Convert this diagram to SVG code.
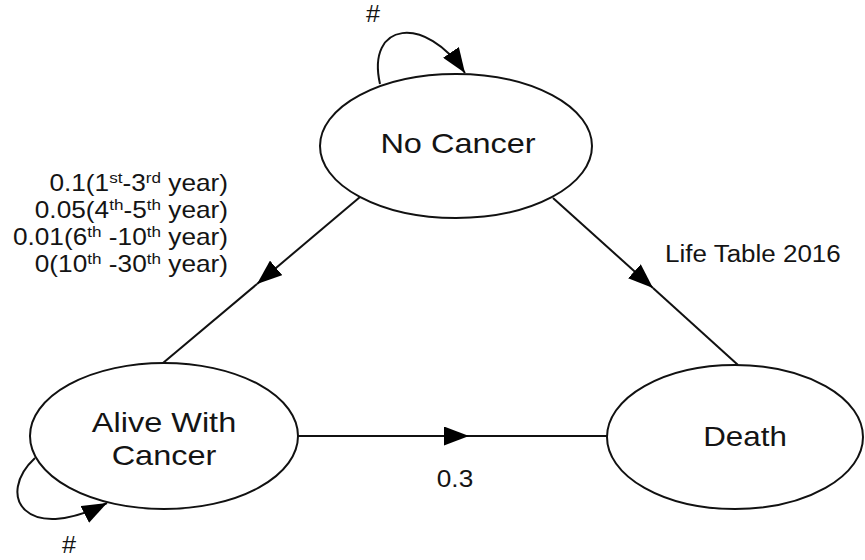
<svg xmlns="http://www.w3.org/2000/svg" width="865" height="560" viewBox="0 0 865 560">
<style>
.node{fill:#fff;stroke:#111;stroke-width:2}
.edge{fill:none;stroke:#111;stroke-width:2}
text{font-family:"Liberation Sans",Arial,sans-serif;fill:#141414}
.big{font-size:28.5px}
.lbl{font-size:23px}
.sup{font-size:15px}
</style>
<defs>
<marker id="arr" markerUnits="userSpaceOnUse" markerWidth="25" markerHeight="19" viewBox="0 0 25 19" refX="25" refY="9.5" orient="auto">
<path d="M0,0 L25,9.5 L0,19 z" fill="#000"/>
</marker>
</defs>
<rect width="865" height="560" fill="#fff"/>
<g id="connectors">
<path class="edge" d="M380,84 C366,22 425,14 465,73" marker-end="url(#arr)"/>
<path class="edge" d="M35,458 C-5,495 25,545 107,503" marker-end="url(#arr)"/>
<line class="edge" x1="360" y1="197" x2="257" y2="284" marker-end="url(#arr)"/>
<line class="edge" x1="257" y1="284" x2="163" y2="363"/>
<line class="edge" x1="553" y1="198" x2="653" y2="288" marker-end="url(#arr)"/>
<line class="edge" x1="653" y1="288" x2="738" y2="365"/>
<line class="edge" x1="298" y1="436" x2="469" y2="436" marker-end="url(#arr)"/>
<line class="edge" x1="469" y1="436" x2="607" y2="436"/>
</g>
<g id="no-cancer">
<ellipse class="node" cx="456" cy="146" rx="136" ry="72"/>
<text class="big" text-anchor="middle" transform="translate(458,153) scale(1.14,1)">No Cancer</text>
</g>
<g id="alive-with-cancer">
<ellipse class="node" cx="164" cy="436" rx="134" ry="73"/>
<text class="big" text-anchor="middle" transform="translate(164,432) scale(1.14,1)">Alive With</text>
<text class="big" text-anchor="middle" transform="translate(164,465) scale(1.14,1)">Cancer</text>
</g>
<g id="death">
<ellipse class="node" cx="735" cy="437" rx="128" ry="72"/>
<text class="big" text-anchor="middle" transform="translate(745,446) scale(1.1,1)">Death</text>
</g>
<g id="labels">
<text class="lbl" text-anchor="middle" transform="translate(373,22) scale(1.1,1)">#</text>
<text class="lbl" text-anchor="middle" transform="translate(69,553) scale(1.1,1)">#</text>
<text class="lbl" text-anchor="middle" transform="translate(455,487) scale(1.14,1)">0.3</text>
<text class="lbl" transform="translate(665,262) scale(1.13,1)">Life Table 2016</text>
<text class="lbl" text-anchor="end" transform="translate(228,191) scale(1.14,1)">0.1(1<tspan class="sup" dy="-8">st</tspan><tspan dy="8">-3</tspan><tspan class="sup" dy="-8">rd</tspan><tspan dy="8"> year)</tspan></text>
<text class="lbl" text-anchor="end" transform="translate(228,218) scale(1.14,1)">0.05(4<tspan class="sup" dy="-8">th</tspan><tspan dy="8">-5</tspan><tspan class="sup" dy="-8">th</tspan><tspan dy="8"> year)</tspan></text>
<text class="lbl" text-anchor="end" transform="translate(228,245) scale(1.14,1)">0.01(6<tspan class="sup" dy="-8">th</tspan><tspan dy="8"> -10</tspan><tspan class="sup" dy="-8">th</tspan><tspan dy="8"> year)</tspan></text>
<text class="lbl" text-anchor="end" transform="translate(228,272) scale(1.14,1)">0(10<tspan class="sup" dy="-8">th</tspan><tspan dy="8"> -30</tspan><tspan class="sup" dy="-8">th</tspan><tspan dy="8"> year)</tspan></text>
</g>
</svg>
